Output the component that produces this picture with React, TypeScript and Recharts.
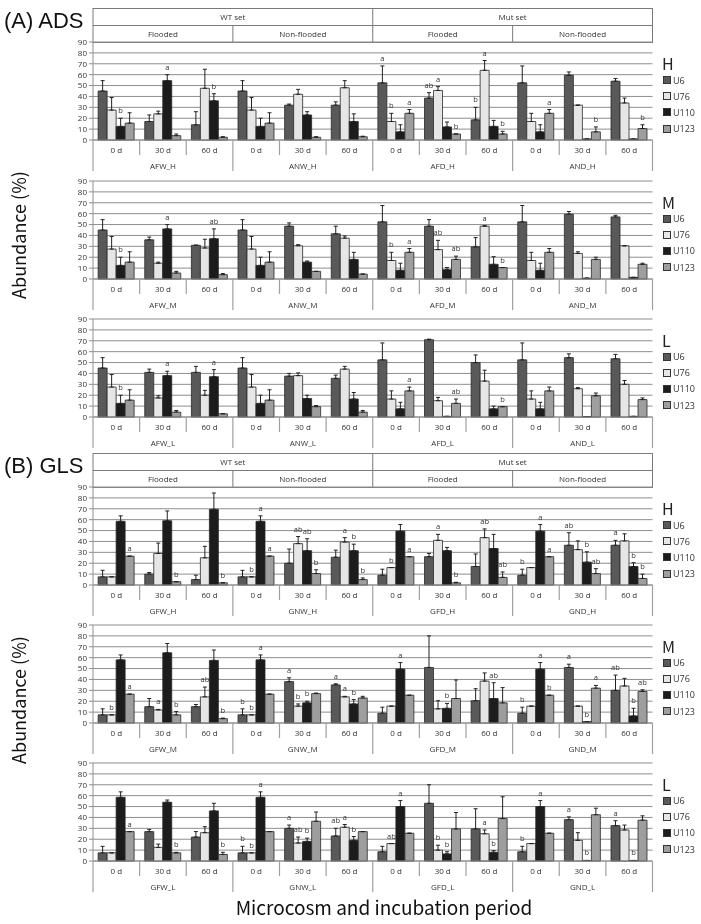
import { BarChart, Bar, XAxis, YAxis, CartesianGrid, ErrorBar, LabelList, Legend } from 'recharts';

const TIMES = ['0 d', '30 d', '60 d'];
const SERIES = ['U6', 'U76', 'U110', 'U123'];
const COLORS = ['#595959', '#e6e6e6', '#1c1c1c', '#9e9e9e'];
const Y_TICKS = [0, 10, 20, 30, 40, 50, 60, 70, 80, 90];

// ADS
const ADS_H_GROUPS = ['AFW_H', 'ANW_H', 'AFD_H', 'AND_H'];
const ADS_H_MEAN = [
  [45, 27.5, 12.5, 15.5], [17, 24, 54.5, 4], [14, 47.5, 36, 2.5],
  [45, 27.5, 12.5, 15.5], [32, 42, 23, 2.5], [32, 48, 17, 3],
  [52.5, 17, 7.5, 24.5], [38.5, 45.5, 12, 5.5], [18.5, 64, 12.5, 5.5],
  [52.5, 17, 7.5, 24.5], [59.5, 32, 1, 7.5], [54, 34, 1, 10.5],
];
const ADS_H_ERR = [
  [9.5, 11.5, 7.5, 9.5], [6, 2.5, 5.5, 1.5], [12, 17.5, 6.5, 0.5],
  [9.5, 11.5, 7.5, 9.5], [1, 4.5, 3, 0.5], [3, 6.5, 7, 0.5],
  [15.5, 7.5, 6.5, 3.5], [5, 3.5, 4.5, 0], [11.5, 9, 5.5, 2.5],
  [15.5, 7.5, 6.5, 3.5], [3, 0, 0, 4.5], [2.5, 4.5, 0, 3.5],
];
const ADS_H_LET = [
  ['', '', 'b', ''], ['', '', 'a', ''], ['', '', 'b', ''],
  ['', '', '', ''], ['', '', '', ''], ['', '', '', ''],
  ['a', 'b', '', 'a'], ['ab', 'a', '', 'b'], ['b', 'a', '', 'b'],
  ['', '', '', 'a'], ['', '', '', 'b'], ['', '', '', 'b'],
];

const ADS_M_GROUPS = ['AFW_M', 'ANW_M', 'AFD_M', 'AND_M'];
const ADS_M_MEAN = [
  [45, 27.5, 12.5, 15.5], [36, 14.5, 46, 5.5], [31, 28.5, 37, 4],
  [45, 27.5, 12.5, 15.5], [48.5, 30.5, 15.5, 7], [41.5, 37.5, 18, 4.5],
  [52.5, 17, 8, 24.5], [48.5, 27, 8.5, 18], [29.5, 48.5, 13.5, 10.5],
  [52.5, 17, 8, 24.5], [59.5, 23.5, 0.8, 18], [57, 30.5, 1.5, 13.5],
];
const ADS_M_ERR = [
  [9.5, 11.5, 7.5, 9.5], [2.5, 1, 4, 1.5], [0, 8, 9, 1],
  [9.5, 11.5, 7.5, 9.5], [3, 1, 1, 0], [7, 2, 6.5, 0],
  [15, 7.5, 6.5, 3.5], [6, 8.5, 2, 3], [8.5, 0.5, 7, 0],
  [15, 7.5, 6.5, 3.5], [2.5, 1.5, 0, 2], [1.5, 0, 0, 1],
];
const ADS_M_LET = [
  ['', '', 'b', ''], ['', '', 'a', ''], ['', '', 'ab', ''],
  ['', '', '', ''], ['', '', '', ''], ['', '', '', ''],
  ['', 'b', '', 'a'], ['', 'ab', '', 'ab'], ['', 'a', '', 'b'],
  ['', '', '', ''], ['', '', '', ''], ['', '', '', ''],
];

const ADS_L_GROUPS = ['AFW_L', 'ANW_L', 'AFD_L', 'AND_L'];
const ADS_L_MEAN = [
  [45, 27.5, 12.5, 15.5], [41, 17.5, 38, 4.5], [41, 20, 37, 3],
  [45, 27.5, 12.5, 15.5], [37.5, 38, 17, 9.5], [35.5, 44, 16.5, 4.5],
  [52.5, 16.5, 7.5, 24], [71, 15, 0.6, 12.5], [50, 33, 7.5, 9.5],
  [52.5, 16.5, 7.5, 24], [54.5, 26, 0.4, 19.5], [53.5, 30, 0.6, 16],
];
const ADS_L_ERR = [
  [9.5, 11.5, 7.5, 9.5], [3, 2, 4, 1.5], [5.5, 4.5, 6.5, 0],
  [9.5, 11.5, 7.5, 9.5], [2.5, 2.5, 3, 1], [3, 2.5, 6, 1.5],
  [15.5, 7.5, 6, 3.5], [0.5, 3, 0, 4], [7, 10, 2.5, 0],
  [15.5, 7.5, 6, 3.5], [3.5, 1, 0, 2.5], [4, 3.5, 0, 1.5],
];
const ADS_L_LET = [
  ['', '', 'b', ''], ['', '', 'a', ''], ['', '', 'a', ''],
  ['', '', '', ''], ['', '', '', ''], ['', '', '', ''],
  ['', '', '', 'a'], ['', '', '', 'ab'], ['', '', '', 'b'],
  ['', '', '', ''], ['', '', '', ''], ['', '', '', ''],
];

// GLS
const GLS_H_GROUPS = ['GFW_H', 'GNW_H', 'GFD_H', 'GND_H'];
const GLS_H_MEAN = [
  [7.5, 7.5, 58.5, 26.5], [10, 29, 59, 3], [5, 25, 69.5, 2],
  [7.5, 7.5, 58.5, 26.5], [20, 38, 31.5, 10.5], [25.5, 39.5, 31.5, 5],
  [9, 16, 49.5, 26], [26, 41, 31.5, 2], [17, 43.5, 33.5, 7],
  [9, 16, 49.5, 26], [36.5, 32.5, 21, 10.5], [36.5, 40.5, 17, 6],
];
const GLS_H_ERR = [
  [6, 0, 5, 0], [1.5, 9.5, 9, 0], [4, 10.5, 15, 0],
  [6, 0, 5, 0], [13, 6.5, 11, 3.5], [6.5, 4, 6, 1.5],
  [5.5, 0, 6, 0], [3, 5.5, 3, 0.5], [11.5, 8, 13, 5],
  [5.5, 0, 6, 0], [11.5, 8, 9.5, 4.5], [4.5, 6.5, 3.5, 4],
];
const GLS_H_LET = [
  ['', '', '', 'a'], ['', '', '', 'b'], ['', '', '', 'b'],
  ['', 'b', 'a', 'a'], ['', 'ab', 'ab', 'b'], ['', 'a', 'b', 'b'],
  ['', 'b', '', 'a'], ['', 'a', '', 'b'], ['', 'ab', '', 'ab'],
  ['b', '', 'a', 'a'], ['ab', '', 'b', 'ab'], ['a', '', 'b', 'b'],
];

const GLS_M_GROUPS = ['GFW_M', 'GNW_M', 'GFD_M', 'GND_M'];
const GLS_M_MEAN = [
  [7.5, 7.5, 58, 26.5], [15, 12, 64.5, 7.5], [15, 24, 57.5, 4],
  [7.5, 7.5, 58, 26.5], [38, 15.5, 18.5, 27], [35, 24, 17.5, 23],
  [9, 15.5, 49.5, 25.5], [51, 13, 13.5, 22.5], [20.5, 38.5, 22.5, 18.5],
  [9, 15.5, 49.5, 25.5], [51, 15.5, 1.2, 32], [30, 34, 6.5, 29],
];
const GLS_M_ERR = [
  [5.5, 0, 4.5, 0], [7.5, 0.5, 8.5, 3], [2, 9, 9.5, 0.5],
  [5.5, 0, 4.5, 0], [3.5, 2, 1.5, 0.5], [1, 0.5, 4, 1.5],
  [5.5, 0, 6, 0], [29, 7.5, 4.5, 17], [11, 7.5, 14.5, 14],
  [5.5, 0, 6, 0], [3, 0, 0, 2.5], [14, 7, 7, 1.5],
];
const GLS_M_LET = [
  ['', 'b', '', 'a'], ['', 'a', '', 'b'], ['', 'ab', '', 'b'],
  ['b', 'b', 'a', ''], ['a', 'b', 'b', ''], ['a', 'a', 'b', ''],
  ['', '', 'a', ''], ['', '', 'b', ''], ['', '', 'ab', ''],
  ['b', '', 'a', 'b'], ['a', '', 'b', 'a'], ['ab', '', 'b', 'ab'],
];

const GLS_L_GROUPS = ['GFW_L', 'GNW_L', 'GFD_L', 'GND_L'];
const GLS_L_MEAN = [
  [7.5, 7.5, 58.5, 27], [27, 12.5, 54, 7.5], [22, 26, 46, 6],
  [7.5, 7.5, 58.5, 27], [30, 16.5, 18, 36.5], [23, 31, 19, 27],
  [8.5, 16, 50, 25.5], [53, 10, 6.5, 29.5], [29.5, 25, 8, 39],
  [8.5, 16, 50, 25.5], [38, 19, 0.5, 42.5], [32.5, 28.5, 0.5, 37.5],
];
const GLS_L_ERR = [
  [6, 0, 5, 0], [2, 3, 2, 0.5], [5, 5.5, 7, 2],
  [6, 0, 5, 0], [3, 5.5, 3, 8.5], [7, 2.5, 3.5, 0],
  [5, 0, 5.5, 0], [17, 4.5, 2, 15], [18.5, 3.5, 1.5, 20],
  [5, 0, 5.5, 0], [2.5, 7, 0, 6], [4.5, 4.5, 0, 4],
];
const GLS_L_LET = [
  ['', '', '', 'a'], ['', '', '', 'b'], ['', '', '', 'b'],
  ['b', 'b', 'a', ''], ['a', 'ab', 'b', ''], ['ab', 'a', 'b', ''],
  ['', 'ab', 'a', ''], ['', 'b', 'b', ''], ['', 'a', 'b', ''],
  ['b', '', 'a', ''], ['a', '', 'b', ''], ['a', '', 'b', ''],
];

const PLOT_L = 93;
const PLOT_R = 652.5;
const PLOT_W = PLOT_R - PLOT_L;
const SLOT = PLOT_W / 12;
const PLOT_H = 98;
const PAD_T = 8;
const AXIS_H = 34;
const K = PLOT_H / 90;
const SMALL = "'Open Sans', 'DejaVu Sans', sans-serif";
const BIG = "'Noto Sans CJK JP', 'Noto Sans', sans-serif";

function buildRows(groups: string[], mean: number[][], err: number[][], lets: string[][]) {
  return mean.map((m, i) => {
    const row: any = { key: `${groups[Math.floor(i / 3)]}|${TIMES[i % 3]}` };
    SERIES.forEach((s, j) => {
      row[s] = m[j];
      row[s + '_err'] = [0, err[i][j]];
      row[s + '_lab'] = lets[i][j] ? `${lets[i][j]}|${err[i][j]}` : '';
    });
    return row;
  });
}

const CatTick = (props: any) => {
  const { x, y, payload, index } = props;
  const [grp, time] = String(payload.value).split('|');
  const left = x - SLOT / 2;
  const start = index % 3 === 0;
  return (
    <g>
      <line x1={left} x2={left} y1={y} y2={y + (start ? 31 : 15)} stroke="#a0a0a0" strokeWidth={1.2} />
      {index === 11 && (
        <line x1={x + SLOT / 2} x2={x + SLOT / 2} y1={y} y2={y + 31} stroke="#a0a0a0" strokeWidth={1.2} />
      )}
      <text x={x} y={y + 12.5} textAnchor="middle" fontSize={8} fill="#333" fontFamily={SMALL}>{time}</text>
      {index % 3 === 1 && (
        <text x={x} y={y + 28.5} textAnchor="middle" fontSize={8} fill="#333" fontFamily={SMALL}>{grp}</text>
      )}
    </g>
  );
};

const letterLabel = (p: any) => {
  const v = p.value as string;
  if (!v) return null;
  const [l, e] = v.split('|');
  return (
    <text x={p.x + p.width / 2} y={p.y - Number(e) * K - 5} textAnchor="middle" fontSize={7.5} fill="#333" fontFamily={SMALL}>
      {l}
    </text>
  );
};

const legendBox = (level: string) => (props: any) => {
  const items = [...(props.payload || [])].sort(
    (a: any, b: any) => SERIES.indexOf(a.value) - SERIES.indexOf(b.value)
  );
  return (
    <div style={{ fontFamily: SMALL, color: '#333' }}>
      <div style={{ height: 18, lineHeight: '18px', fontSize: 16, fontFamily: BIG, marginLeft: -1, color: '#222' }}>{level}</div>
      {items.map((item: any) => (
        <div key={item.value} style={{ height: 16.2, display: 'flex', alignItems: 'center', fontSize: 9, color: '#333' }}>
          <span style={{ display: 'inline-block', width: 6, height: 6, background: item.color, border: '0.8px solid #333', marginRight: 2 }} />
          <span style={{ color: '#333' }}>{item.value}</span>
        </div>
      ))}
    </div>
  );
};

function Panel({ top, level, groups, mean, err, lets }: any) {
  const rows = buildRows(groups, mean, err, lets);
  const h = PAD_T + PLOT_H + AXIS_H;
  return (
    <div style={{ position: 'absolute', left: 0, top: top - PAD_T, width: 701, height: h }}>
      <BarChart
        width={701}
        height={h}
        data={rows}
        margin={{ top: PAD_T, right: 701 - PLOT_R, bottom: 0, left: PLOT_L - 30 }}
        barCategoryGap="11%"
        barGap={0}
      >
        <CartesianGrid vertical={false} stroke="#8e8e8e" />
        <XAxis
          dataKey="key"
          height={AXIS_H}
          interval={0}
          tickLine={false}
          tickSize={0}
          tickMargin={0}
          axisLine={{ stroke: '#8e8e8e' }}
          tick={<CatTick />}
        />
        <YAxis
          width={30}
          domain={[0, 90]}
          ticks={Y_TICKS}
          interval={0}
          tickSize={4}
          tickMargin={2}
          axisLine={{ stroke: '#8e8e8e' }}
          tickLine={{ stroke: '#8e8e8e' }}
          tick={{ fontSize: 8, fill: '#333', fontFamily: SMALL }}
        />
        {SERIES.map((s, j) => (
          <Bar key={s} dataKey={s} name={s} fill={COLORS[j]} stroke="#2a2a2a" strokeWidth={0.8} isAnimationActive={false}>
            <ErrorBar dataKey={s + '_err'} width={2} stroke="#222" strokeWidth={1} direction="y" />
            <LabelList dataKey={s + '_lab'} content={letterLabel} />
          </Bar>
        ))}
        <Legend
          layout="vertical"
          align="center"
          verticalAlign="middle"
          wrapperStyle={{ left: 663, top: PAD_T + 12, width: 38 }}
          content={legendBox(level)}
        />
      </BarChart>
    </div>
  );
}

function Header({ top }: { top: number }) {
  const mid = PLOT_L + PLOT_W / 2;
  const q1 = PLOT_L + PLOT_W / 4;
  const q3 = PLOT_L + (PLOT_W * 3) / 4;
  const st = { fontSize: 8, fill: '#333', fontFamily: SMALL } as any;
  return (
    <svg style={{ position: 'absolute', left: 0, top }} width={701} height={35}>
      <g stroke="#7a7a7a" strokeWidth={1} fill="none">
        <rect x={PLOT_L} y={0.5} width={PLOT_W} height={34} />
        <line x1={PLOT_L} x2={PLOT_R} y1={17.5} y2={17.5} />
        <line x1={mid} x2={mid} y1={0.5} y2={34.5} />
        <line x1={q1} x2={q1} y1={17.5} y2={34.5} />
        <line x1={q3} x2={q3} y1={17.5} y2={34.5} />
      </g>
      <text x={(PLOT_L + mid) / 2} y={12} textAnchor="middle" {...st}>WT set</text>
      <text x={(mid + PLOT_R) / 2} y={12} textAnchor="middle" {...st}>Mut set</text>
      <text x={(PLOT_L + q1) / 2} y={29} textAnchor="middle" {...st}>Flooded</text>
      <text x={(q1 + mid) / 2} y={29} textAnchor="middle" {...st}>Non-flooded</text>
      <text x={(mid + q3) / 2} y={29} textAnchor="middle" {...st}>Flooded</text>
      <text x={(q3 + PLOT_R) / 2} y={29} textAnchor="middle" {...st}>Non-flooded</text>
    </svg>
  );
}

const Title = ({ text, top }: { text: string; top: number }) => (
  <div style={{ position: 'absolute', left: 4, top, fontFamily: "'Liberation Sans', Arial, sans-serif", fontSize: 22, lineHeight: '26px', color: '#111', whiteSpace: 'nowrap' }}>
    {text}
  </div>
);

const YLabel = ({ cy }: { cy: number }) => (
  <div
    style={{
      position: 'absolute', left: 18, top: cy, width: 200, marginLeft: -100, marginTop: -12,
      height: 24, lineHeight: '24px', textAlign: 'center', transform: 'rotate(-90deg)',
      fontFamily: BIG, fontSize: 18, color: '#111', whiteSpace: 'nowrap',
    }}
  >
    Abundance (%)
  </div>
);

export default function App() {
  return (
    <div style={{ position: 'absolute', left: 0, top: 0, width: 701, height: 924, background: '#fff', overflow: 'hidden', filter: 'grayscale(1)' }}>
      <Title text="(A) ADS" top={8} />
      <Title text="(B) GLS" top={453} />
      <Header top={8} />
      <Header top={453} />
      <YLabel cy={235} />
      <YLabel cy={700} />
      <Panel top={42} level="H" groups={ADS_H_GROUPS} mean={ADS_H_MEAN} err={ADS_H_ERR} lets={ADS_H_LET} />
      <Panel top={180.5} level="M" groups={ADS_M_GROUPS} mean={ADS_M_MEAN} err={ADS_M_ERR} lets={ADS_M_LET} />
      <Panel top={318.5} level="L" groups={ADS_L_GROUPS} mean={ADS_L_MEAN} err={ADS_L_ERR} lets={ADS_L_LET} />
      <Panel top={487} level="H" groups={GLS_H_GROUPS} mean={GLS_H_MEAN} err={GLS_H_ERR} lets={GLS_H_LET} />
      <Panel top={624.5} level="M" groups={GLS_M_GROUPS} mean={GLS_M_MEAN} err={GLS_M_ERR} lets={GLS_M_LET} />
      <Panel top={762.5} level="L" groups={GLS_L_GROUPS} mean={GLS_L_MEAN} err={GLS_L_ERR} lets={GLS_L_LET} />
      <div style={{ position: 'absolute', left: 0, width: 768, top: 894, textAlign: 'center', fontFamily: BIG, fontSize: 19, lineHeight: '26px', color: '#111' }}>
        Microcosm and incubation period
      </div>
    </div>
  );
}
